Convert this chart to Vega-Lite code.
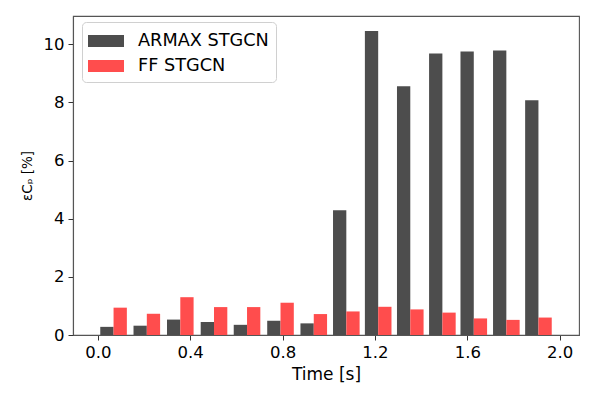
{
  "$schema": "https://vega.github.io/schema/vega-lite/v6.json",
  "width": 506,
  "height": 319,
  "autosize": {"type": "none"},
  "padding": {"left": 73, "top": 16, "right": 19, "bottom": 62},
  "background": "white",
  "config": {
    "font": "DejaVu Sans",
    "view": {"stroke": "#555", "strokeWidth": 1.1},
    "axis": {
      "labelFont": "DejaVu Sans",
      "labelFontSize": 16.5,
      "labelColor": "#000",
      "titleFont": "DejaVu Sans",
      "titleFontWeight": "normal",
      "titleColor": "#000",
      "tickColor": "#333",
      "tickSize": 5,
      "tickWidth": 1,
      "domainColor": "#555",
      "domainWidth": 1.1,
      "grid": false,
      "labelPadding": 4
    }
  },
  "data": {
    "values": [
      {"time": 0.068, "series": "ARMAX STGCN", "value": 0.28},
      {"time": 0.212, "series": "ARMAX STGCN", "value": 0.32},
      {"time": 0.357, "series": "ARMAX STGCN", "value": 0.53},
      {"time": 0.503, "series": "ARMAX STGCN", "value": 0.45},
      {"time": 0.646, "series": "ARMAX STGCN", "value": 0.35},
      {"time": 0.791, "series": "ARMAX STGCN", "value": 0.49},
      {"time": 0.935, "series": "ARMAX STGCN", "value": 0.40},
      {"time": 1.076, "series": "ARMAX STGCN", "value": 4.29},
      {"time": 1.214, "series": "ARMAX STGCN", "value": 10.45},
      {"time": 1.353, "series": "ARMAX STGCN", "value": 8.55},
      {"time": 1.492, "series": "ARMAX STGCN", "value": 9.68},
      {"time": 1.628, "series": "ARMAX STGCN", "value": 9.75},
      {"time": 1.769, "series": "ARMAX STGCN", "value": 9.78},
      {"time": 1.908, "series": "ARMAX STGCN", "value": 8.07},
      {"time": 0.068, "series": "FF STGCN", "value": 0.94},
      {"time": 0.212, "series": "FF STGCN", "value": 0.73},
      {"time": 0.357, "series": "FF STGCN", "value": 1.30},
      {"time": 0.503, "series": "FF STGCN", "value": 0.96},
      {"time": 0.646, "series": "FF STGCN", "value": 0.96},
      {"time": 0.791, "series": "FF STGCN", "value": 1.11},
      {"time": 0.935, "series": "FF STGCN", "value": 0.72},
      {"time": 1.076, "series": "FF STGCN", "value": 0.81},
      {"time": 1.214, "series": "FF STGCN", "value": 0.97},
      {"time": 1.353, "series": "FF STGCN", "value": 0.88},
      {"time": 1.492, "series": "FF STGCN", "value": 0.77},
      {"time": 1.628, "series": "FF STGCN", "value": 0.57},
      {"time": 1.769, "series": "FF STGCN", "value": 0.52},
      {"time": 1.908, "series": "FF STGCN", "value": 0.60}
    ]
  },
  "encoding": {
    "x": {
      "field": "time",
      "type": "quantitative",
      "scale": {"domain": [-0.086, 2.062], "nice": false, "zero": false},
      "axis": {"values": [0, 0.4, 0.8, 1.2, 1.6, 2.0], "format": ".1f", "title": "Time [s]", "titleFontSize": 17, "titlePadding": 6}
    },
    "y": {
      "field": "value",
      "type": "quantitative",
      "scale": {"domain": [0, 10.97], "nice": false},
      "axis": {"values": [0, 2, 4, 6, 8, 10], "title": "εCₚ [%]", "titleFontSize": 13.5, "titlePadding": 9}
    },
    "color": {
      "field": "series",
      "type": "nominal",
      "scale": {"domain": ["ARMAX STGCN", "FF STGCN"], "range": ["#4d4d4d", "#ff4d4d"]},
      "legend": {
        "title": null,
        "orient": "none",
        "legendX": 9,
        "legendY": 6,
        "padding": 7,
        "fillColor": "rgba(255,255,255,0.8)",
        "strokeColor": "#d0d0d0",
        "cornerRadius": 4,
        "symbolType": "M-1.5,-0.5H1.5V0.5H-1.5Z",
        "symbolSize": 576,
        "symbolOffset": 5,
        "symbolStrokeWidth": 0,
        "symbolOpacity": 1,
        "labelFontSize": 17.7,
        "labelColor": "#000",
        "labelOffset": 20,
        "rowPadding": 4,
        "labelFont": "DejaVu Sans"
      }
    }
  },
  "layer": [
    {
      "transform": [{"filter": "datum.series === 'ARMAX STGCN'"}],
      "mark": {"type": "bar", "width": 13.3, "xOffset": -6.65, "opacity": 1}
    },
    {
      "transform": [{"filter": "datum.series === 'FF STGCN'"}],
      "mark": {"type": "bar", "width": 13.3, "xOffset": 6.65, "opacity": 1}
    }
  ]
}
